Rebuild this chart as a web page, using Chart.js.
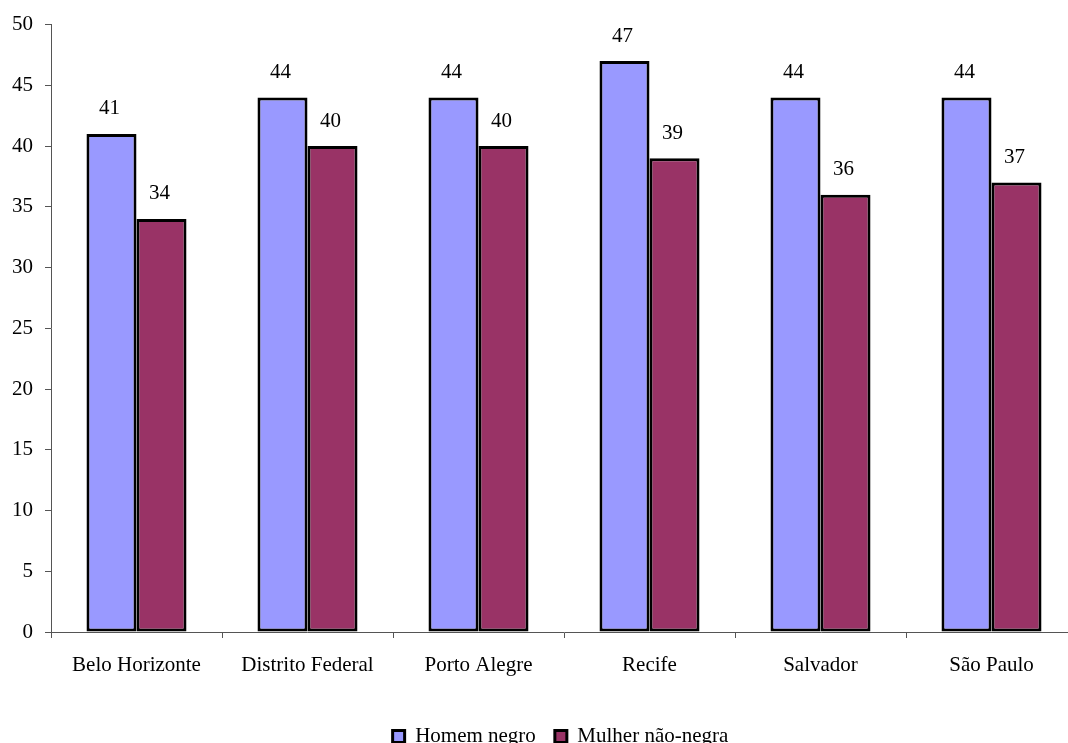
<!DOCTYPE html>
<html>
<head>
<meta charset="utf-8">
<script src="https://cdn.jsdelivr.net/npm/chart.js@4/dist/chart.umd.min.js"></script>
<style>
  html, body { margin: 0; padding: 0; background: #fff; overflow: hidden; width: 1068px; height: 743px; }
  #wrap { width: 1080px; height: 757px; }
</style>
</head>
<body>
<div id="wrap"><canvas id="chart" width="1080" height="757"></canvas></div>
<script>
const cities = ["Belo Horizonte", "Distrito Federal", "Porto Alegre", "Recife", "Salvador", "São Paulo"];
const homemNegro = [41, 44, 44, 47, 44, 44];
const mulherNaoNegra = [34, 40, 40, 39, 36, 37];
const yTicks = [0, 5, 10, 15, 20, 25, 30, 35, 40, 45, 50];

const FONT = "'Liberation Serif', 'Times New Roman', serif";

const valueLabels = {
  id: "valueLabels",
  afterDatasetsDraw(chart) {
    const ctx = chart.ctx;
    ctx.save();
    ctx.font = "21px " + FONT;
    ctx.fillStyle = "#000";
    ctx.textAlign = "center";
    ctx.textBaseline = "middle";
    chart.data.datasets.forEach((ds, i) => {
      chart.getDatasetMeta(i).data.forEach((bar, j) => {
        ctx.fillText(ds.data[j], bar.x - 2, bar.y - 25);
      });
    });
    ctx.restore();
  }
};

// legend sits a bit right of centre in the original
const legendShift = {
  id: "legendShift",
  afterLayout(chart) {
    chart.legend.left += 22;
    chart.legend.right += 22;
  }
};

new Chart(document.getElementById("chart"), {
  type: "bar",
  data: {
    labels: cities,
    datasets: [
      { label: "Homem negro", data: homemNegro, backgroundColor: "#9999FF", borderColor: "#000", borderWidth: 3, borderSkipped: false },
      { label: "Mulher não-negra", data: mulherNaoNegra, backgroundColor: "#993366", borderColor: "#000", borderWidth: 3, borderSkipped: false },
    ],
  },
  options: {
    responsive: false,
    animation: false,
    layout: { padding: { top: 23, right: 3, left: 0, bottom: 0 } },
    datasets: { bar: { categoryPercentage: 0.585, barPercentage: 1 } },
    plugins: {
      tooltip: { enabled: false },
      legend: {
        position: "bottom",
        labels: { font: { family: FONT, size: 21 }, color: "#000", boxWidth: 12, boxHeight: 12, padding: 19 },
      },
    },
    scales: {
      x: {
        afterFit(scale) { scale.height = 75; },
        grid: { drawOnChartArea: false, color: "#555", tickLength: 6, offset: true },
        border: { color: "#555", width: 1 },
        ticks: { font: { family: FONT, size: 21 }, color: "#000", padding: 15, maxRotation: 0 },
      },
      y: {
        min: 0,
        max: 50,
        afterFit(scale) { scale.width = 51; },
        afterBuildTicks(scale) { scale.ticks = yTicks.map(v => ({ value: v })); },
        grid: { drawOnChartArea: false, color: "#555", tickLength: 6 },
        border: { color: "#555", width: 1 },
        ticks: { font: { family: FONT, size: 21 }, color: "#000", padding: 12 },
      },
    },
  },
  plugins: [valueLabels, legendShift],
});
</script>
</body>
</html>
